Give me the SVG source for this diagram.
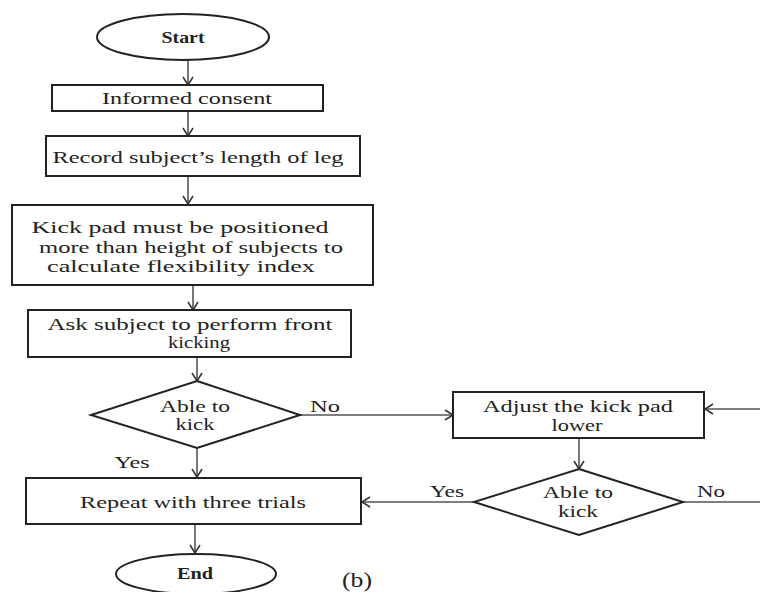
<svg xmlns="http://www.w3.org/2000/svg" width="760" height="592" viewBox="0 0 760 592">
<defs>
<marker id="arr" markerWidth="12" markerHeight="12" refX="10" refY="6" orient="auto" markerUnits="userSpaceOnUse">
<path d="M2,1 L10,6 L2,11" fill="none" stroke="#333" stroke-width="1.5"/>
</marker>
<style>
.box{fill:#fff;stroke:#222;stroke-width:2}
.c{fill:none;stroke:#555;stroke-width:1.6}
.ca{fill:none;stroke:#555;stroke-width:1.6;marker-end:url(#arr)}
text{font-family:"Liberation Serif","Times New Roman",serif;font-size:17px;fill:#222;text-anchor:middle}
</style>
</defs>
<rect width="760" height="592" fill="#fff"/>
<g id="connectors">
<line class="ca" x1="188" y1="60" x2="188" y2="85"/>
<line class="ca" x1="188" y1="111" x2="188" y2="136"/>
<line class="ca" x1="188" y1="176" x2="188" y2="204"/>
<line class="ca" x1="193" y1="285" x2="193" y2="310"/>
<line class="ca" x1="197" y1="357" x2="197" y2="381"/>
<line class="ca" x1="300" y1="415" x2="453" y2="415"/>
<line class="ca" x1="197" y1="448" x2="197" y2="477"/>
<line class="ca" x1="195" y1="524" x2="195" y2="553"/>
<line class="ca" x1="579" y1="438" x2="579" y2="469"/>
<line class="ca" x1="474" y1="502" x2="362" y2="502"/>
<line class="c" x1="683" y1="502" x2="760" y2="502"/>
<line class="ca" x1="760" y1="409" x2="705" y2="409"/>
<text x="325" y="412" textLength="30" lengthAdjust="spacingAndGlyphs">No</text>
<text x="132" y="468" textLength="35" lengthAdjust="spacingAndGlyphs">Yes</text>
<text x="447" y="497" textLength="34" lengthAdjust="spacingAndGlyphs">Yes</text>
<text x="711" y="497" textLength="28" lengthAdjust="spacingAndGlyphs">No</text>
</g>
<g id="start">
<ellipse class="box" cx="183" cy="37" rx="86" ry="23"/>
<text x="183" y="43" textLength="43" lengthAdjust="spacingAndGlyphs" font-weight="bold">Start</text>
</g>
<g id="consent">
<rect class="box" x="52" y="85" width="271" height="26"/>
<text x="187" y="104" textLength="170" lengthAdjust="spacingAndGlyphs">Informed consent</text>
</g>
<g id="record">
<rect class="box" x="46" y="136" width="314" height="40"/>
<text x="198" y="163" textLength="291" lengthAdjust="spacingAndGlyphs">Record subject’s length of leg</text>
</g>
<g id="kickpad">
<rect class="box" x="12" y="205" width="361" height="80"/>
<text x="180" y="233" textLength="297" lengthAdjust="spacingAndGlyphs">Kick pad must be positioned</text>
<text x="191" y="253" textLength="304" lengthAdjust="spacingAndGlyphs">more than height of subjects to</text>
<text x="181" y="272" textLength="268" lengthAdjust="spacingAndGlyphs">calculate flexibility index</text>
</g>
<g id="ask">
<rect class="box" x="28" y="310" width="323" height="47"/>
<text x="190" y="330" textLength="285" lengthAdjust="spacingAndGlyphs">Ask subject to perform front</text>
<text x="199" y="348" textLength="62" lengthAdjust="spacingAndGlyphs">kicking</text>
</g>
<g id="decision1">
<polygon class="box" points="197,381 300,415 197,448 91,415"/>
<text x="195" y="412" textLength="70" lengthAdjust="spacingAndGlyphs">Able to</text>
<text x="195" y="430" textLength="39" lengthAdjust="spacingAndGlyphs">kick</text>
</g>
<g id="repeat">
<rect class="box" x="26" y="478" width="335" height="46"/>
<text x="193" y="508" textLength="226" lengthAdjust="spacingAndGlyphs">Repeat with three trials</text>
</g>
<g id="end">
<ellipse class="box" cx="196" cy="574" rx="80" ry="20"/>
<text x="195" y="579" textLength="36" lengthAdjust="spacingAndGlyphs" font-weight="bold">End</text>
</g>
<g id="adjust">
<rect class="box" x="453" y="392" width="251" height="46"/>
<text x="578" y="412" textLength="190" lengthAdjust="spacingAndGlyphs">Adjust the kick pad</text>
<text x="577" y="431" textLength="51" lengthAdjust="spacingAndGlyphs">lower</text>
</g>
<g id="decision2">
<polygon class="box" points="579,469 683,502 579,535 474,502"/>
<text x="578" y="498" textLength="70" lengthAdjust="spacingAndGlyphs">Able to</text>
<text x="578" y="517" textLength="40" lengthAdjust="spacingAndGlyphs">kick</text>
</g>
<text x="357" y="587" style="font-size:21px" textLength="30" lengthAdjust="spacingAndGlyphs">(b)</text>
</svg>
